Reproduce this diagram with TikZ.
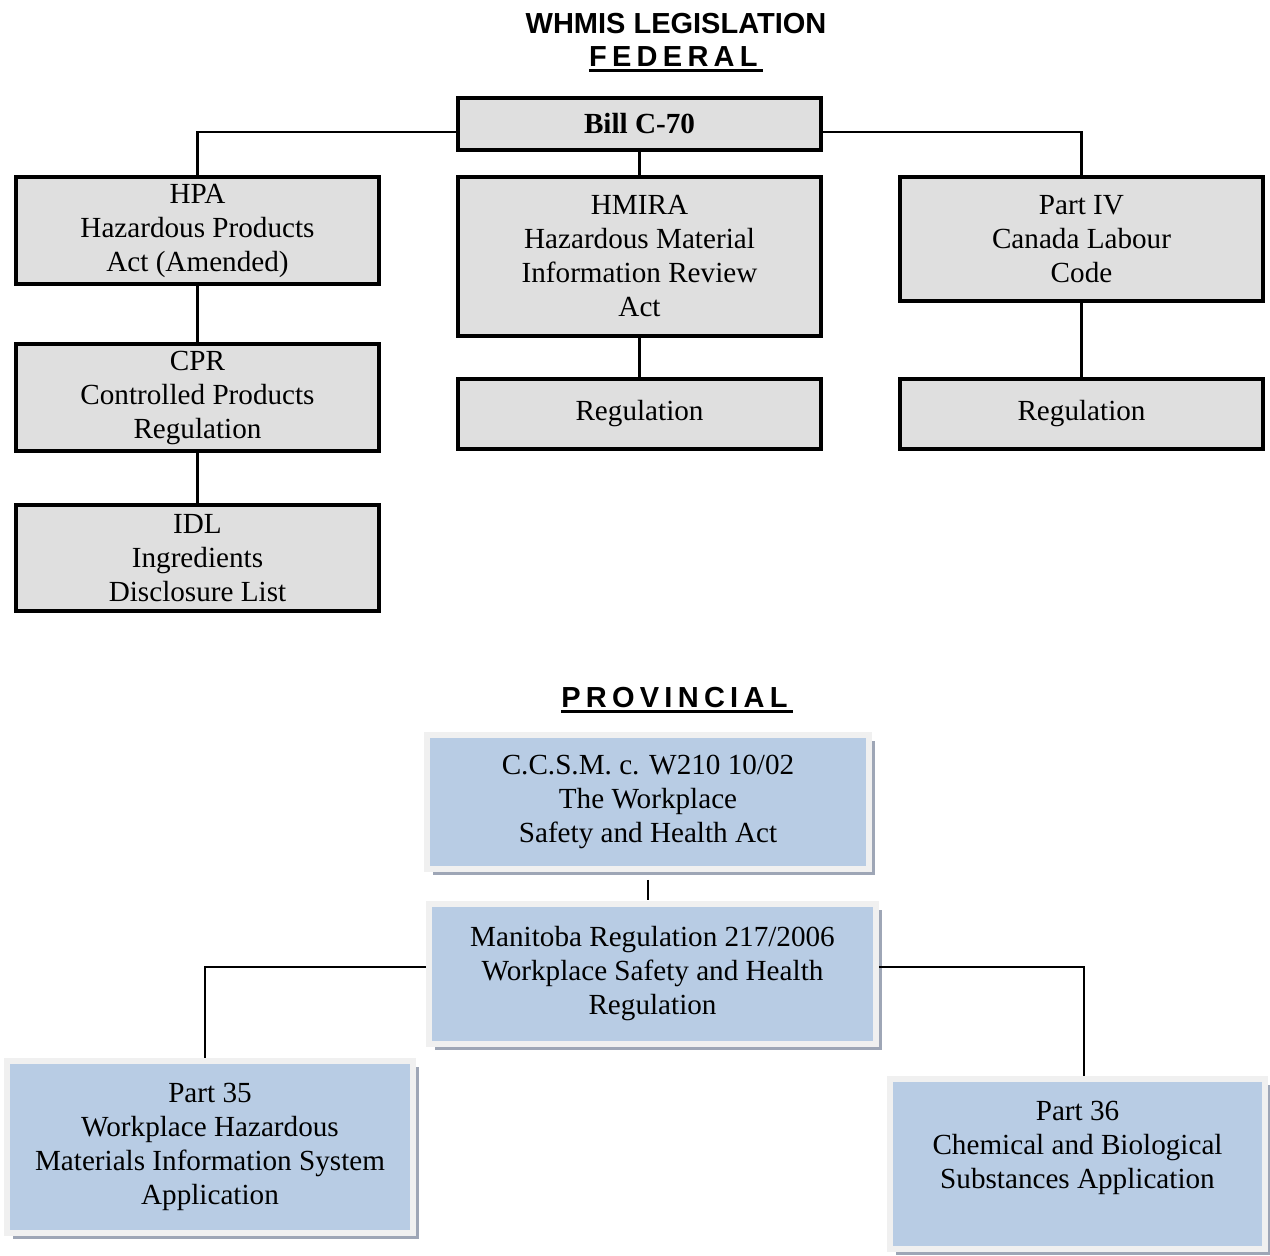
\documentclass[tikz,border=0pt]{standalone}
\usepackage{fontspec}
\setmainfont{Liberation Serif}
\newfontfamily\titlefont{Liberation Sans}
\usetikzlibrary{shadows}

\definecolor{fedgray}{HTML}{DFDFDF}
\definecolor{provblue}{HTML}{B8CCE4}
\definecolor{provframe}{HTML}{F0F0F0}
\definecolor{provshadow}{HTML}{9EA6B6}

\begin{document}
\begin{tikzpicture}[x=0.02cm, y=-0.02cm,
    boxfont/.style={font=\fontsize{16.6}{19.35}\selectfont},
    fedbox/.style={draw, line width=2.3pt, fill=fedgray, align=center,
      inner sep=0pt, minimum width=7.26cm, boxfont},
    provbox/.style={draw=provframe, line width=3.4pt, fill=provblue,
      align=center, inner sep=0pt, boxfont,
      drop shadow={shadow xshift=0.12cm, shadow yshift=-0.12cm,
        fill=provshadow, opacity=1}},
    headtext/.style={inner sep=0pt, anchor=base,
      font=\titlefont\bfseries\fontsize{16.5}{20}\selectfont},
    uline/.style={line width=1.7pt},
    fedline/.style={line width=1.7pt},
    provline/.style={line width=1pt}]
  \useasboundingbox (0,0) rectangle (1270,1255);

  % headings
  \node[headtext] (title) at (676,33) {WHMIS LEGISLATION};
  \node[headtext] (fed) at (676,66)
    {F\kern3pt E\kern3pt D\kern3pt E\kern3pt R\kern3pt A\kern3pt L\kern3pt};
  \node[headtext] (prov) at (677,707)
    {P\kern3pt R\kern3pt O\kern3pt V\kern3pt I\kern3pt N\kern3pt C\kern3pt I\kern3pt A\kern3pt L\kern3pt};
  \draw[uline] ([yshift=-0.09cm]fed.base west) -- ([yshift=-0.09cm]fed.base east);
  \draw[uline] ([yshift=-0.09cm]prov.base west) -- ([yshift=-0.09cm]prov.base east);

  % federal
  \node[fedbox, minimum height=1.04cm] (bill) at (639.5,124) {\textbf{Bill C-70}};
  \node[fedbox, minimum height=2.14cm] (hpa) at (197.5,230.5)
    {HPA\\Hazardous Products\\Act (Amended)};
  \node[fedbox, minimum height=3.18cm] (hmira) at (639.5,256.5)
    {HMIRA\\Hazardous Material\\Information Review\\Act};
  \node[fedbox, minimum height=2.48cm] (partiv) at (1081.5,239)
    {Part IV\\Canada Labour\\Code};
  \node[fedbox, minimum height=2.14cm] (cpr) at (197.5,397.5)
    {CPR\\Controlled Products\\Regulation};
  \node[fedbox, minimum height=1.40cm] (regm) at (639.5,414) {Regulation};
  \node[fedbox, minimum height=1.40cm] (regr) at (1081.5,414) {Regulation};
  \node[fedbox, minimum height=2.12cm] (idl) at (197.5,558)
    {IDL\\Ingredients\\Disclosure List};

  \begin{scope}[fedline]
    \draw ([yshift=-0.16cm]bill.west) -| (hpa.north);
    \draw ([yshift=-0.16cm]bill.east) -| (partiv.north);
    \draw (bill.south) -- (hmira.north);
    \draw (hpa.south) -- (cpr.north);
    \draw (cpr.south) -- (idl.north);
    \draw (hmira.south) -- (regm.north);
    \draw (partiv.south) -- (regr.north);
  \end{scope}

  % provincial
  \node[provbox, minimum width=8.84cm, minimum height=2.68cm] (ccsm) at (648,802)
    {C.C.S.M. c. W210 10/02\\The Workplace\\Safety and Health Act};
  \node[provbox, minimum width=8.94cm, minimum height=2.80cm] (manitoba) at (652.5,974)
    {Manitoba Regulation 217/2006\\Workplace Safety and Health\\Regulation};
  \node[provbox, minimum width=8.12cm, minimum height=3.44cm] (part35) at (210,1147)
    {Part 35\\Workplace Hazardous\\Materials Information System\\Application};
  \node[provbox, minimum width=7.50cm, minimum height=3.40cm] (part36) at (1077.5,1164)
    {Part 36\\Chemical and Biological\\Substances Application\rule[-0.76cm]{0pt}{0pt}};

  \begin{scope}[provline]
    \draw[shorten <=0.16cm, shorten >=0.02cm] (ccsm.south) -- (ccsm.south |- manitoba.north);
    \draw ([yshift=0.14cm]manitoba.west) -| ([xshift=-0.1cm]part35.north);
    \draw ([yshift=0.14cm]manitoba.east) -| ([xshift=0.13cm]part36.north);
  \end{scope}
\end{tikzpicture}
\end{document}
